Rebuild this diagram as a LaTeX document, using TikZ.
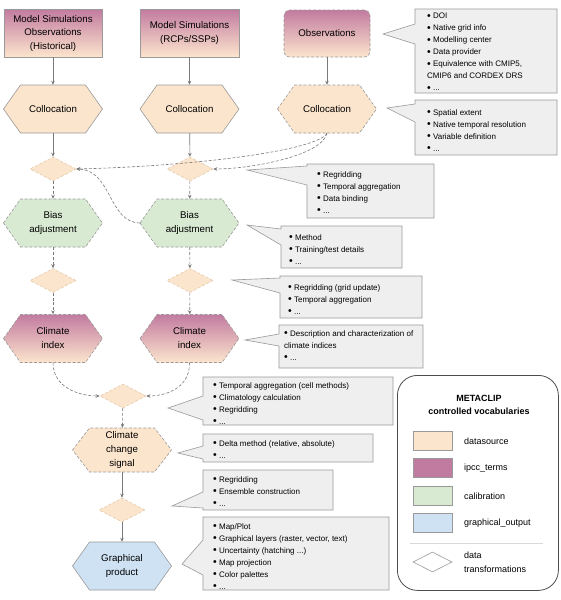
\documentclass[tikz,border=0pt]{standalone}
\usepackage{fontspec}
\setmainfont{Liberation Sans}
\usetikzlibrary{shapes.geometric,arrows.meta}
\definecolor{peach}{HTML}{FCE5CD}
\definecolor{ipcc}{HTML}{C27BA0}
\definecolor{calib}{HTML}{D9EAD3}
\definecolor{gout}{HTML}{CFE2F3}
\definecolor{cfill}{HTML}{EFEFEF}
\definecolor{edge}{HTML}{999999}
\definecolor{conn}{HTML}{7A7A7A}
\definecolor{diaedge}{HTML}{E2C6A6}
\newcommand\bul{\raisebox{-0.8pt}{\fontsize{10.5}{12}\selectfont\textbullet}\ }
\newcommand\hexnode[7]{%
  \path[#6] ({#2-#4/2},#3) -- ({#2-#4/2+17},{#3-#5/2}) -- ({#2+#4/2-17},{#3-#5/2})
    -- ({#2+#4/2},#3) -- ({#2+#4/2-17},{#3+#5/2}) -- ({#2-#4/2+17},{#3+#5/2}) -- cycle;
  \node[hextxt, minimum width=#4, minimum height=#5] (#1) at (#2,#3) {#7};}
\begin{document}
\begin{tikzpicture}[x=1pt,y=-1pt,
  hextxt/.style={rectangle, inner sep=0, align=center, font=\fontsize{9.7}{14}\selectfont},
  dsh/.style={dash pattern=on 3pt off 1.8pt},
  hpeach/.style={fill=peach, draw=edge, line width=0.6pt},
  hpeachd/.style={hpeach, dsh},
  hgreen/.style={fill=calib, draw=edge, line width=0.6pt, dsh},
  hipcc/.style={top color=ipcc, bottom color=peach, draw=edge, line width=0.6pt, dsh},
  hblue/.style={fill=gout, draw=edge, line width=0.6pt},
  topbox/.style={rectangle, top color=ipcc, bottom color=peach, draw=edge, line width=0.6pt,
    inner sep=0, align=center, font=\fontsize{9.7}{13.5}\selectfont},
  dia/.style={diamond, aspect=2, minimum width=46, minimum height=24, inner sep=0,
    fill=peach, draw=diaedge, line width=0.5pt, dsh},
  conn/.style={draw=conn, line width=0.6pt, -{Stealth[length=4pt,width=3.5pt]}},
  connd/.style={conn, dsh},
  callbox/.style={fill=cfill, draw=edge, line width=0.6pt},
  calltxt/.style={anchor=north west, inner sep=0, align=left, font=\fontsize{8}{12}\selectfont},
  swatch/.style={rectangle, minimum width=39, minimum height=19, inner sep=0, draw=edge, line width=0.6pt},
  legtxt/.style={anchor=west, inner sep=0, align=left, font=\fontsize{9}{14}\selectfont}
]
\useasboundingbox (0,0) rectangle (561,600);

% top boxes
\node[topbox, minimum width=98, minimum height=48] (b1) at (53,33) {Model Simulations\\Observations\\(Historical)};
\node[topbox, minimum width=99, minimum height=48] (b2) at (189.5,33) {Model Simulations\\(RCPs/SSPs)};
\node[topbox, dsh, rounded corners=6, minimum width=86, minimum height=47] (obs) at (327,33.5) {Observations};

% hexagons
\hexnode{col1}{53}{109}{99}{48}{hpeach}{Collocation}
\hexnode{col2}{189.5}{109}{99}{48}{hpeach}{Collocation}
\hexnode{col3}{327}{109}{99}{48}{hpeachd}{Collocation}
\hexnode{bias1}{53}{223}{99}{48}{hgreen}{Bias\\adjustment}
\hexnode{bias2}{189.5}{223}{99}{48}{hgreen}{Bias\\adjustment}
\hexnode{ci1}{53}{338.5}{99}{48}{hipcc}{Climate\\index}
\hexnode{ci2}{189.5}{338.5}{99}{48}{hipcc}{Climate\\index}
\hexnode{ccs}{122}{450}{99}{44}{hpeachd}{Climate\\change\\signal}
\hexnode{gp}{122}{566}{99}{48}{hblue}{Graphical\\product}

% diamonds
\node[dia] (d1) at (53,169) {};
\node[dia] (d2) at (190,169) {};
\node[dia] (d3) at (53,280.5) {};
\node[dia] (d4) at (190,280.5) {};
\node[dia] (d5) at (123,396) {};
\node[dia] (d6) at (122,510) {};

% connectors
\draw[conn] (b1) -- (col1);
\draw[conn] (b2) -- (col2);
\draw[conn] (obs) -- (col3);
\draw[conn] (col1) -- (d1);
\draw[conn] (col2) -- (d2);
\draw[connd] (col3.south) .. controls (318,150) and (200,166) .. (d1.east);
\draw[connd] (col3.south) .. controls (322,156) and (250,169) .. (d2.east);
\draw[connd] (d1) -- (bias1);
\draw[connd] (d2) -- (bias2);
\draw[connd] (bias2.west) .. controls (108,222) and (112,170) .. (d1.east);
\draw[connd] (bias1) -- (d3);
\draw[connd] (bias2) -- (d4);
\draw[connd] (d3) -- (ci1);
\draw[connd] (d4) -- (ci2);
\draw[connd] (ci1.south) .. controls (53,388) and (80,396) .. (d5.west);
\draw[connd] (ci2.south) .. controls (190,388) and (166,396) .. (d5.east);
\draw[connd] (d5) -- (ccs);
\draw[conn] (ccs) -- (d6);
\draw[conn] (d6) -- (gp);

% callouts
\path[callbox] (415,9) -- (415,24) -- (383,34) -- (415,44) -- (415,93) -- (557,93) -- (557,9) -- cycle;
\node[calltxt] (c1) at (427,13) {\bul DOI\\\bul Native grid info\\\bul Modelling center\\\bul Data provider\\\bul Equivalence with CMIP5,\\CMIP6 and CORDEX DRS\\\bul ...};

\path[callbox] (415,100) -- (415,104) -- (387,108) -- (415,122) -- (415,155) -- (557,155) -- (557,100) -- cycle;
\node[calltxt] (c2) at (427,109) {\bul Spatial extent\\\bul Native temporal resolution\\\bul Variable definition\\\bul ...};

\path[callbox] (307,164) -- (307,166) -- (247,170) -- (307,185) -- (307,218) -- (434,218) -- (434,164) -- cycle;
\node[calltxt] (c3) at (317,171) {\bul Regridding\\\bul Temporal aggregation\\\bul Data binding\\\bul ...};

\path[callbox] (281,226) -- (281,229) -- (247,225) -- (281,245) -- (281,268) -- (402,268) -- (402,226) -- cycle;
\node[calltxt] (c4) at (289,234) {\bul Method\\\bul Training/test details\\\bul ...};

\path[callbox] (280,276) -- (280,278) -- (232,280) -- (280,293) -- (280,318) -- (422,318) -- (422,276) -- cycle;
\node[calltxt] (c5) at (288,284) {\bul Regridding (grid update)\\\bul Temporal aggregation\\\bul ...};

\path[callbox] (279,325) -- (279,334) -- (245,340) -- (279,346) -- (279,368) -- (423,368) -- (423,325) -- cycle;
\node[calltxt] (c6) at (284,330) {\bul Description and characterization of\\climate indices\\\bul ...};

\path[callbox] (203,377) -- (203,396) -- (168,408) -- (203,420) -- (203,425) -- (393,425) -- (393,377) -- cycle;
\node[calltxt] (c7) at (213,382) {\bul Temporal aggregation (cell methods)\\\bul Climatology calculation\\\bul Regridding\\\bul ...};

\path[callbox] (203,434) -- (203,446) -- (178,453) -- (203,459) -- (203,462) -- (373,462) -- (373,434) -- cycle;
\node[calltxt] (c8) at (213,440) {\bul Delta method (relative, absolute)\\\bul ...};

\path[callbox] (203,470) -- (203,492) -- (172,506) -- (203,508) -- (203,510) -- (333,510) -- (333,470) -- cycle;
\node[calltxt] (c9) at (213,476) {\bul Regridding\\\bul Ensemble construction\\\bul ...};

\path[callbox] (203,517) -- (203,540) -- (182,564) -- (203,575) -- (203,590) -- (389,590) -- (389,517) -- cycle;
\node[calltxt] (c10) at (213,523) {\bul Map/Plot\\\bul Graphical layers (raster, vector, text)\\\bul Uncertainty (hatching ...)\\\bul Map projection\\\bul Color palettes\\\bul ...};

% legend
\node[draw=black!70, line width=0.8pt, rounded corners=20, minimum width=161, minimum height=215, inner sep=0, anchor=north west] (legend) at (397,375) {};
\node[align=center, inner sep=0, font=\fontsize{9}{13}\selectfont\bfseries] (legtitle) at (479,404.5) {METACLIP\\controlled vocabularies};
\node[swatch, fill=peach] (sw1) at (432.5,441) {};
\node[swatch, fill=ipcc] (sw2) at (432.5,467.5) {};
\node[swatch, fill=calib] (sw3) at (432.5,495.5) {};
\node[swatch, fill=gout] (sw4) at (432.5,522.5) {};
\node[legtxt] (l1) at (464,441) {datasource};
\node[legtxt] (l2) at (464,468) {ipcc\_terms};
\node[legtxt] (l3) at (464,496) {calibration};
\node[legtxt] (l4) at (464,523.5) {graphical\_output};
\draw[black!15, line width=0.6pt] (410,543) -- (543,543);
\node[diamond, aspect=2, minimum width=39, minimum height=20, inner sep=0, fill=white, draw=edge, line width=0.6pt] (sw5) at (432.5,562) {};
\node[legtxt] (l5) at (464,562) {data\\transformations};
\end{tikzpicture}
\end{document}
